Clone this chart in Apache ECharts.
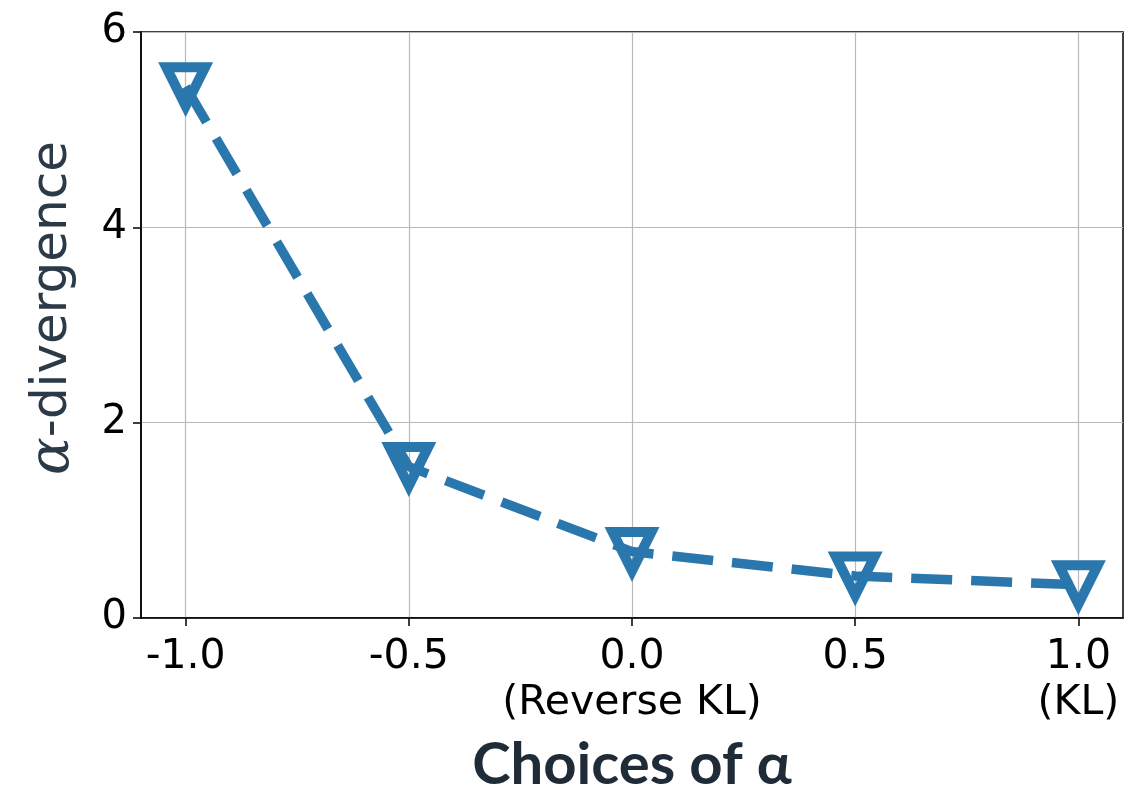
<!DOCTYPE html>
<html>
<head>
<meta charset="utf-8">
<script src="https://cdn.jsdelivr.net/npm/echarts@6/dist/echarts.min.js"></script>
<style>
  html, body { margin: 0; padding: 0; background: #ffffff; }
  #chart { width: 1129px; height: 792px; }
</style>
</head>
<body>
<div id="chart"></div>
<script>
// alpha values and the measured alpha-divergence at each one
const alphas = [-1.0, -0.5, 0.0, 0.5, 1.0];
const divergence = [5.44, 1.55, 0.68, 0.43, 0.34];

// tick positions and their labels
const xTickValues = [-1.0, -0.5, 0.0, 0.5, 1.0];
const xTickLabels = ['-1.0', '-0.5', '0.0\n(Reverse KL)', '0.5', '1.0\n(KL)'];
const yTickValues = [0, 2, 4, 6];
const yTickLabels = ['0', '2', '4', '6'];

const lineColor = '#2a77ad';
const tickFont = 'DejaVu Sans';

// hollow downward triangle: outer outline plus an inner cut-out wound the other way
const hollowTriangle = 'path://M0,0 L55,0 L27.5,55 Z M16.2,10 L27.5,32.7 L38.8,10 Z';

const chart = echarts.init(document.getElementById('chart'), null, { renderer: 'canvas' });

chart.setOption({
  animation: false,
  backgroundColor: '#ffffff',
  grid: {
    left: 141, right: 6, top: 32, bottom: 174,
    outerBoundsMode: 'none',
    containLabel: false,
    show: true,
    borderColor: '#000000',
    borderWidth: 1.5,
    backgroundColor: 'transparent'
  },
  xAxis: {
    type: 'value',
    min: -1.1,
    max: 1.1,
    name: 'Choices of α',
    nameLocation: 'middle',
    nameGap: 118,
    nameTextStyle: {
      fontFamily: 'Lato',
      fontWeight: 'bold',
      fontSize: 58,
      color: '#1f2c38'
    },
    axisLine: { show: true, onZero: false, lineStyle: { color: '#000000', width: 1.5 } },
    axisTick: {
      show: true, inside: false, length: 8,
      customValues: xTickValues,
      lineStyle: { color: '#000000', width: 1.5 }
    },
    axisLabel: {
      customValues: xTickValues,
      margin: 16,
      fontFamily: tickFont,
      fontSize: 41,
      lineHeight: 46,
      color: '#000000',
      formatter: function (v) {
        const i = xTickValues.findIndex(t => Math.abs(t - v) < 1e-9);
        return i >= 0 ? xTickLabels[i] : '';
      }
    },
    splitLine: { show: true, lineStyle: { color: '#b8b8b8', width: 1.2 } }
  },
  yAxis: {
    type: 'value',
    min: 0,
    max: 6,
    interval: 2,
    name: '{a|α}-divergence',
    nameLocation: 'middle',
    nameRotate: 90,
    nameGap: 60,
    nameTextStyle: {
      fontFamily: tickFont,
      fontSize: 50,
      color: '#2c3a48',
      padding: [0, 0, 0, 34],
      rich: {
        a: { fontFamily: 'DejaVu Serif', fontStyle: 'italic', fontSize: 56, color: '#2c3a48' }
      }
    },
    axisLine: { show: true, onZero: false, lineStyle: { color: '#000000', width: 1.5 } },
    axisTick: { show: true, inside: false, length: 8, lineStyle: { color: '#000000', width: 1.5 } },
    axisLabel: {
      margin: 14,
      fontFamily: tickFont,
      fontSize: 40,
      color: '#000000',
      formatter: function (v) {
        const i = yTickValues.indexOf(v);
        return i >= 0 ? yTickLabels[i] : '';
      }
    },
    splitLine: { show: true, lineStyle: { color: '#b8b8b8', width: 1.2 } }
  },
  series: [{
    type: 'line',
    data: alphas.map((a, i) => [a, divergence[i]]),
    symbol: hollowTriangle,
    symbolSize: [55, 55],
    symbolOffset: [0, 3],
    showAllSymbol: true,
    clip: false,
    lineStyle: { color: lineColor, width: 9.5, type: [41, 19], cap: 'butt' },
    itemStyle: { color: lineColor, borderWidth: 0 },
    emphasis: { disabled: true },
    z: 3
  }]
});
</script>
</body>
</html>
